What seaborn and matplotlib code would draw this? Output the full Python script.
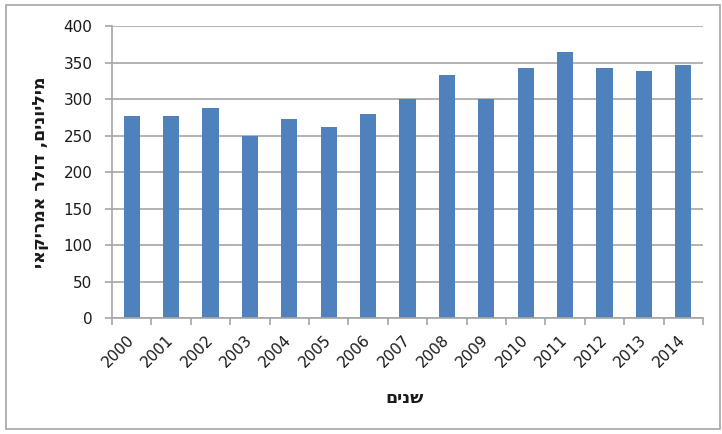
import numpy as np
import pandas as pd
import matplotlib
matplotlib.use("Agg")
import matplotlib.pyplot as plt
from matplotlib.patches import Rectangle
import seaborn as sns

# Annual values, millions of US dollars
years = ["2000", "2001", "2002", "2003", "2004", "2005", "2006", "2007",
         "2008", "2009", "2010", "2011", "2012", "2013", "2014"]
values = [277, 277, 288, 250, 273, 261, 279, 300,
          333, 300, 343, 365, 343, 339, 347]
y_ticks = [0, 50, 100, 150, 200, 250, 300, 350, 400]

y_title = "מיליונים, דולר אמריקאי"
x_title = "שנים"


def visual(s):
    # matplotlib lays text out left-to-right; reverse Hebrew for display
    return s[::-1]


df = pd.DataFrame({"year": years, "value": values})

sns.set_theme(style="white")
plt.rcParams["font.family"] = ["DejaVu Sans"]

W, H = 722, 434
L, R, T, B = 112, 703, 26, 318
fig = plt.figure(figsize=(W / 100, H / 100), dpi=100)
ax = fig.add_axes([L / W, 1 - B / H, (R - L) / W, (B - T) / H])

sns.barplot(data=df, x="year", y="value", color="#4F81BD", saturation=1,
            width=0.41, ax=ax, edgecolor="none")

grid_c = "#A6A6A6"
text_c = "#1a1a1a"
ax.set_ylim(0, 400)
ax.set_xlim(-0.5, len(years) - 0.5)
ax.set_yticks(y_ticks)
ax.set_yticklabels([str(t) for t in y_ticks], fontsize=11, color=text_c)
ax.yaxis.grid(True, color=grid_c, linewidth=1.2)
ax.set_axisbelow(True)

ax.set_xticks(range(len(years)))
ax.set_xticklabels(years, rotation=45, ha="right", va="center",
                   rotation_mode="anchor", fontsize=11, color=text_c)
ax.set_xticks(np.arange(-0.5, len(years), 1), minor=True)
ax.tick_params(axis="x", which="major", length=0, pad=14)
ax.tick_params(axis="x", which="minor", length=5, width=1.2, color=grid_c,
               direction="out", bottom=True)
ax.tick_params(axis="y", which="major", length=5, width=1.2, color=grid_c,
               direction="out", left=True, pad=9)

for side in ("top", "right"):
    ax.spines[side].set_visible(False)
for side in ("left", "bottom"):
    ax.spines[side].set_color(grid_c)
    ax.spines[side].set_linewidth(1.2)

ax.set_xlabel(visual(x_title), fontsize=12.5, fontweight="bold", color=text_c)
ax.xaxis.label.set_va("center")
ax.xaxis.set_label_coords((405 - L) / (R - L), (B - 398) / (B - T))
ax.set_ylabel(visual(y_title), fontsize=12.5, fontweight="bold", color=text_c)
ax.yaxis.label.set_va("center")
ax.yaxis.set_label_coords((40 - L) / (R - L), 0.5)

# Outer chart frame
fig.patches.append(Rectangle((6 / W, 5 / H), 714 / W, 424 / H,
                             transform=fig.transFigure, fill=False,
                             edgecolor="#A6A6A6", linewidth=1.2))

fig.savefig("out.png", dpi=100)
